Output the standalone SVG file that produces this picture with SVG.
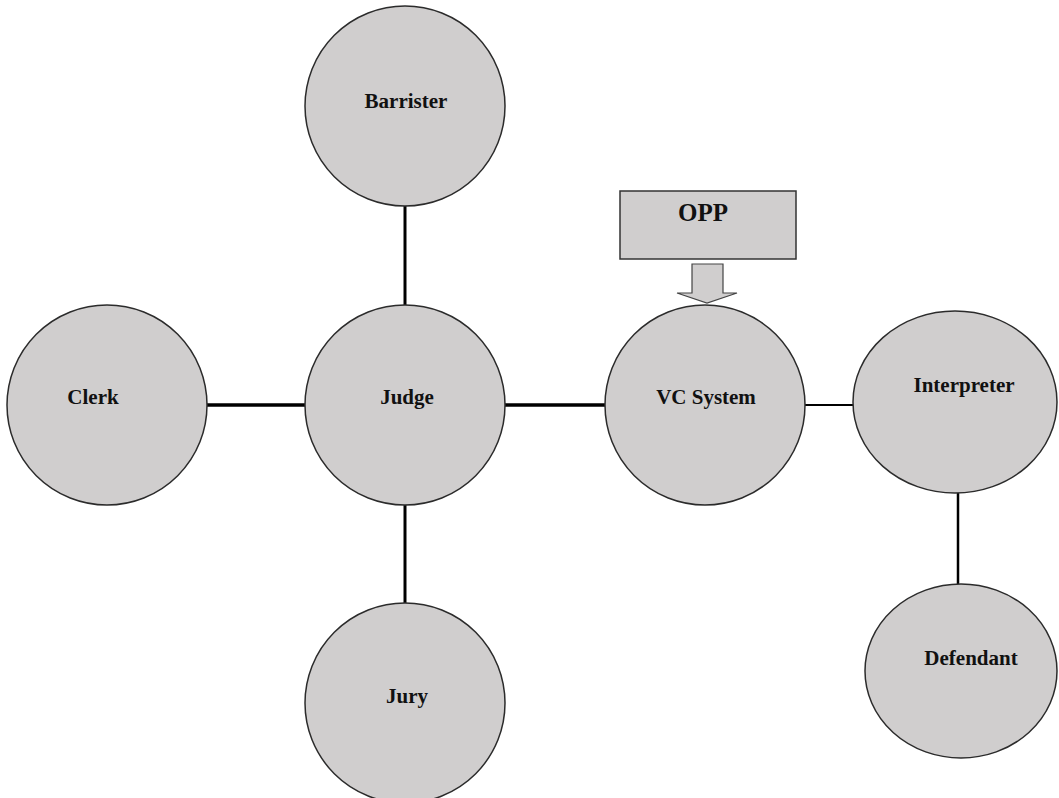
<svg xmlns="http://www.w3.org/2000/svg" width="1059" height="798" viewBox="0 0 1059 798">
<style>
.n{fill:#d0cece;stroke:#2b2b2b;stroke-width:1.5}
.t{font-family:"Liberation Serif",serif;font-weight:bold;font-size:21px;fill:#111;text-anchor:middle}
.c{stroke:#000;fill:none}
</style>
<rect width="1059" height="798" fill="#fff"/>
<g id="connectors">
<line class="c" x1="405" y1="206" x2="405" y2="305" stroke-width="3"/>
<line class="c" x1="207" y1="405" x2="305" y2="405" stroke-width="3.5"/>
<line class="c" x1="505" y1="405" x2="605" y2="405" stroke-width="3.5"/>
<line class="c" x1="405" y1="505" x2="405" y2="603" stroke-width="3"/>
<line class="c" x1="805" y1="405" x2="853" y2="405" stroke-width="2"/>
<line class="c" x1="958" y1="493" x2="958" y2="584" stroke-width="2.5"/>
</g>
<g id="barrister"><circle class="n" cx="405" cy="106" r="100"/><text class="t" x="406" y="108">Barrister</text></g>
<g id="clerk"><circle class="n" cx="107" cy="405" r="100"/><text class="t" x="93" y="404">Clerk</text></g>
<g id="judge"><circle class="n" cx="405" cy="405" r="100"/><text class="t" x="407" y="404">Judge</text></g>
<g id="jury"><circle class="n" cx="405" cy="703" r="100"/><text class="t" x="407" y="703">Jury</text></g>
<g id="vc"><circle class="n" cx="705" cy="405" r="100"/><text class="t" x="706" y="404">VC System</text></g>
<g id="interpreter"><ellipse class="n" cx="955" cy="402" rx="102" ry="91"/><text class="t" x="964" y="392">Interpreter</text></g>
<g id="defendant"><ellipse class="n" cx="961" cy="671" rx="96" ry="87"/><text class="t" x="971" y="665">Defendant</text></g>
<g id="opp">
<rect x="620" y="191" width="176" height="68" fill="#d0cece" stroke="#333" stroke-width="1.5"/>
<text x="703" y="221" font-family="Liberation Serif, serif" font-weight="bold" font-size="25" fill="#111" text-anchor="middle">OPP</text>
<path d="M692,264 H723 V293 H737 L707,303 L677,293 H692 Z" fill="#d0cece" stroke="#444" stroke-width="1.2"/>
</g>
</svg>
